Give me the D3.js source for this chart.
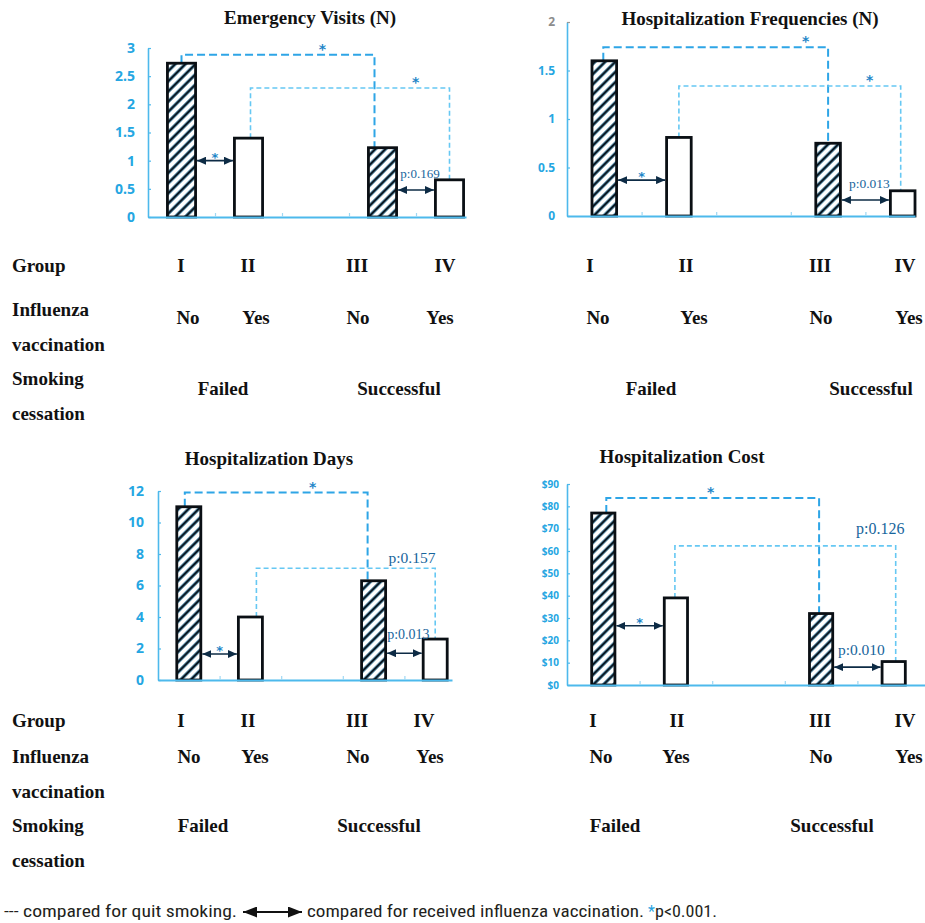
<!DOCTYPE html>
<html>
<head>
<meta charset="utf-8">
<script src="https://cdn.jsdelivr.net/npm/d3@7"></script>
<style>
    body { margin: 0; background: #ffffff; }
    svg { display: block; }
</style>
</head>
<body>
<svg id="chart" width="925" height="923"></svg>
<script>
/* Four bar panels: visits, hospitalizations, days, cost by smoking / vaccination group */

// Categories (the empty slot separates failed / successful quitters)
const categories = ['I', 'II', 'gap', 'III', 'IV'];
const barGroups = ['I', 'II', 'III', 'IV'];
const hatchedBars = [true, false, true, false];

// Bar values per panel
const emergencyVisits = [2.73, 1.40, 1.23, 0.66];
const hospFrequencies = [1.60, 0.81, 0.75, 0.26];
const hospDays = [11.0, 4.0, 6.3, 2.6];
const hospCost = [77, 39, 32, 10.5];

// Y tick values
const evTicks = [0, 0.5, 1, 1.5, 2, 2.5, 3];
const hfTicks = [0, 0.5, 1, 1.5, 2];
const hdTicks = [0, 2, 4, 6, 8, 10, 12];
const hcTicks = [0, 10, 20, 30, 40, 50, 60, 70, 80, 90];

// Comparisons: quit smoking (dashed brackets), vaccination (double arrows)
const quitPairs = [['I', 'III'], ['II', 'IV']];
const vaccPairs = [['I', 'II'], ['III', 'IV']];

const evQuitLevels = [2.88, 2.29];
const evQuitLabels = ['*', '*'];
const evVaccLevels = [1.0, 0.48];
const evVaccLabels = ['*', 'p:0.169'];

const hfQuitLevels = [1.74, 1.34];
const hfQuitLabels = ['*', '*'];
const hfVaccLevels = [0.37, 0.165];
const hfVaccLabels = ['*', 'p:0.013'];

const hdQuitLevels = [11.9, 7.1];
const hdQuitLabels = ['*', 'p:0.157'];
const hdVaccLevels = [1.65, 1.7];
const hdVaccLabels = ['*', 'p:0.013'];

const hcQuitLevels = [83.7, 62.3];
const hcQuitLabels = ['*', 'p:0.126'];
const hcVaccLevels = [26.5, 8];
const hcVaccLabels = ['*', 'p:0.010'];

// Table rows under each panel
const rowHeaders = [['Group'], ['Influenza', 'vaccination'], ['Smoking', 'cessation']];
const groupLabels = ['I', 'II', 'III', 'IV'];
const vaccLabels = ['No', 'Yes', 'No', 'Yes'];
const smokeLabels = ['Failed', 'Successful'];

(function() {
    'use strict';

    const BLUE_AXIS = '#4db9ec';
    const BLUE_TEXT = '#25a6e2';
    const BLUE_DARK = '#1e86c8';
    const BLUE_P = '#17659c';
    const ARROW = '#0d2b45';

    const svg = d3.select('#chart');
    const defs = svg.append('defs');

    // Hatch pattern for bars without vaccination
    const hs = 7.2;
    const hatch = defs.append('pattern')
        .attr('id', 'hatch')
        .attr('patternUnits', 'userSpaceOnUse')
        .attr('width', hs)
        .attr('height', hs)
        .attr('patternTransform', 'rotate(45)');
    hatch.append('rect').attr('width', hs).attr('height', hs).attr('fill', '#ffffff');
    hatch.append('line').attr('x1', hs / 2).attr('x2', hs / 2).attr('y1', 0).attr('y2', hs)
        .attr('stroke', '#7cc9ee').attr('stroke-width', 3.4);
    hatch.append('line').attr('x1', hs / 2).attr('x2', hs / 2).attr('y1', 0).attr('y2', hs)
        .attr('stroke', '#0a1722').attr('stroke-width', 2.4);

    // Arrow heads
    function addMarker(id, w, h, color) {
        defs.append('marker')
            .attr('id', id)
            .attr('viewBox', `0 0 ${w} ${h}`)
            .attr('refX', w)
            .attr('refY', h / 2)
            .attr('markerUnits', 'userSpaceOnUse')
            .attr('markerWidth', w)
            .attr('markerHeight', h)
            .attr('orient', 'auto-start-reverse')
            .append('path')
            .attr('d', `M0,0 L${w},${h / 2} L0,${h} Z`)
            .attr('fill', color);
    }
    addMarker('arrow', 9, 8, ARROW);
    addMarker('arrowBig', 14, 11, '#111111');

    const panels = [
        {
            title: 'Emergency Visits (N)', titleX: 310, titleY: 24,
            values: emergencyVisits, ticks: evTicks, yMax: 3, fmt: d => d,
            x0: 148, x1: 483, axisEnd: 466, yTop: 48, yBottom: 217, barFrac: 0.42,
            tickFont: 14, tickGap: 13,
            quitLevels: evQuitLevels, quitLabels: evQuitLabels,
            quitDx: [[0, -8], [2, 0]], quitLabelPos: [0.73, 0.83], quitLabelDy: [-1, -1], quitFont: [14, 14],
            vaccLevels: evVaccLevels, vaccLabels: evVaccLabels, vaccLabelDy: [1, -12], vaccFont: [13, 13],
            rows: { header: [272, 316, 351, 385, 420], group: [181, 248, 357, 445], gy: 272,
                    vacc: [188, 256, 358, 440], vy: 324, smoke: [223, 399], sy: 395 }
        },
        {
            title: 'Hospitalization Frequencies  (N)', titleX: 750, titleY: 25,
            values: hospFrequencies, ticks: hfTicks, yMax: 2, fmt: d => d,
            x0: 567, x1: 940, axisEnd: 915, yTop: 22, yBottom: 216, barFrac: 0.33,
            tickFont: 12, tickGap: 12, grayTop: true,
            quitLevels: hfQuitLevels, quitLabels: hfQuitLabels,
            quitDx: [[-1, 0], [0, -2]], quitLabelPos: [0.9, 0.86], quitLabelDy: [-1, -1], quitFont: [14, 14],
            vaccLevels: hfVaccLevels, vaccLabels: hfVaccLabels, vaccLabelDy: [1, -12], vaccFont: [13, 13.5],
            rows: { header: null, group: [590, 686, 820, 905], gy: 272,
                    vacc: [598, 694, 821, 909], vy: 324, smoke: [651, 871], sy: 395 }
        },
        {
            title: 'Hospitalization Days', titleX: 269, titleY: 465,
            values: hospDays, ticks: hdTicks, yMax: 12, fmt: d => d,
            x0: 158, x1: 466, axisEnd: 452, yTop: 491, yBottom: 680, barFrac: 0.39,
            tickFont: 14, tickGap: 14,
            quitLevels: hdQuitLevels, quitLabels: hdQuitLabels,
            quitDx: [[-4, -6], [6, 0]], quitLabelPos: [0.7, 0.87], quitLabelDy: [-1, -5], quitFont: [14, 15.5],
            vaccLevels: hdVaccLevels, vaccLabels: hdVaccLabels, vaccLabelDy: [1, -14], vaccFont: [13, 14],
            rows: { header: [727, 763, 798, 832, 867], group: [181, 248, 357, 424], gy: 727,
                    vacc: [189, 255, 358, 430], vy: 763, smoke: [203, 379], sy: 832 }
        },
        {
            title: 'Hospitalization Cost', titleX: 682, titleY: 463,
            values: hospCost, ticks: hcTicks, yMax: 90, fmt: d => '$' + d,
            x0: 567, x1: 930, axisEnd: 925, yTop: 484, yBottom: 685, barFrac: 0.32,
            tickFont: 10, tickGap: 8,
            quitLevels: hcQuitLevels, quitLabels: hcQuitLabels,
            quitDx: [[3, -2], [-1, 2]], quitLabelPos: [0.49, 0.93], quitLabelDy: [-1, -12], quitFont: [14, 16],
            vaccLevels: hcVaccLevels, vaccLabels: hcVaccLabels, vaccLabelDy: [1, -12], vaccFont: [13, 15.5],
            rows: { header: null, group: [593, 677, 820, 905], gy: 727,
                    vacc: [601, 676, 821, 909], vy: 763, smoke: [615, 832], sy: 832 }
        }
    ];

    panels.forEach(drawPanel);
    drawFooter();

    /**
     * Draw one bar panel with its comparison marks and table rows
     */
    function drawPanel(p) {
        const g = svg.append('g');

        const x = d3.scaleBand().domain(categories).range([p.x0, p.x1]);
        const y = d3.scaleLinear().domain([0, p.yMax]).range([p.yBottom, p.yTop]);
        const cx = c => x(c) + x.bandwidth() / 2;
        const bw = x.bandwidth() * p.barFrac;
        const valueOf = c => p.values[barGroups.indexOf(c)];

        // Title
        g.append('text')
            .attr('x', p.titleX)
            .attr('y', p.titleY)
            .attr('text-anchor', 'middle')
            .style('font-family', '"Liberation Serif", "Times New Roman", serif')
            .style('font-weight', 'bold')
            .style('font-size', '19px')
            .style('fill', '#111111')
            .text(p.title);

        // Quit smoking brackets (dashed)
        quitPairs.forEach((pair, i) => {
            const xa = cx(pair[0]) + p.quitDx[i][0];
            const xb = cx(pair[1]) + p.quitDx[i][1];
            const ly = y(p.quitLevels[i]);
            g.append('path')
                .attr('d', `M${xa},${y(valueOf(pair[0]))} V${ly} H${xb} V${y(valueOf(pair[1]))}`)
                .attr('fill', 'none')
                .attr('stroke', i === 0 ? '#2ea5e6' : '#66c8f3')
                .attr('stroke-width', i === 0 ? 2 : 1.6)
                .attr('stroke-dasharray', i === 0 ? '8,4' : '5,3');

            const lbl = p.quitLabels[i];
            g.append('text')
                .attr('x', xa + (xb - xa) * p.quitLabelPos[i])
                .attr('y', ly + p.quitLabelDy[i])
                .attr('text-anchor', 'middle')
                .style('font-family', lbl === '*' ? '"DejaVu Sans", sans-serif' : '"Liberation Serif", serif')
                .style('font-weight', lbl === '*' ? 'bold' : 'normal')
                .style('font-size', p.quitFont[i] + 'px')
                .style('fill', lbl === '*' ? BLUE_DARK : BLUE_P)
                .text(lbl);
        });

        // Bars
        barGroups.forEach((c, i) => {
            const v = p.values[i];
            g.append('rect')
                .attr('x', cx(c) - bw / 2)
                .attr('y', y(v))
                .attr('width', bw)
                .attr('height', y(0) - y(v))
                .attr('fill', hatchedBars[i] ? 'url(#hatch)' : '#ffffff')
                .attr('stroke', '#0a0f14')
                .attr('stroke-width', 2.8);
        });

        // Vaccination arrows
        vaccPairs.forEach((pair, i) => {
            const xa = cx(pair[0]) + bw / 2 + 1.5;
            const xb = cx(pair[1]) - bw / 2 - 1.5;
            const ay = y(p.vaccLevels[i]);
            g.append('line')
                .attr('x1', xa).attr('x2', xb)
                .attr('y1', ay).attr('y2', ay)
                .attr('stroke', ARROW)
                .attr('stroke-width', 1.6)
                .attr('marker-start', 'url(#arrow)')
                .attr('marker-end', 'url(#arrow)');

            const lbl = p.vaccLabels[i];
            g.append('text')
                .attr('x', (xa + xb) / 2 + (lbl === '*' ? 0 : 4))
                .attr('y', ay + p.vaccLabelDy[i])
                .attr('text-anchor', 'middle')
                .style('font-family', lbl === '*' ? '"DejaVu Sans", sans-serif' : '"Liberation Serif", serif')
                .style('font-weight', lbl === '*' ? 'bold' : 'normal')
                .style('font-size', p.vaccFont[i] + 'px')
                .style('fill', lbl === '*' ? BLUE_DARK : BLUE_P)
                .text(lbl);
        });

        // Y axis (ticks inside)
        const yAxis = g.append('g')
            .attr('transform', `translate(${p.x0}, 0)`)
            .call(d3.axisLeft(y)
                .tickValues(p.ticks)
                .tickFormat(p.fmt)
                .tickSizeInner(-3)
                .tickSizeOuter(0)
                .tickPadding(p.tickGap));
        yAxis.select('.domain').attr('stroke', BLUE_AXIS).attr('stroke-width', 1.6);
        yAxis.selectAll('.tick line').attr('stroke', BLUE_AXIS).attr('stroke-width', 1.2);
        yAxis.selectAll('.tick text')
            .style('font-family', '"Noto Sans", "Liberation Sans", sans-serif')
            .style('font-weight', 'bold')
            .style('font-size', p.tickFont + 'px')
            .style('fill', BLUE_TEXT);
        if (p.grayTop) {
            yAxis.selectAll('.tick').filter(d => d === p.yMax)
                .call(t => t.select('text').style('fill', '#8c8c8c'))
                .call(t => t.select('line').attr('stroke', '#9a9a9a'));
        }

        // X axis: line with small ticks at band boundaries
        const step = x.step();
        const xb = d3.scaleLinear()
            .domain([0, (p.axisEnd - p.x0) / step])
            .range([p.x0, p.axisEnd]);
        const xAxis = g.append('g')
            .attr('transform', `translate(0, ${y(0)})`)
            .call(d3.axisBottom(xb)
                .tickValues([1, 2, 3, 4])
                .tickFormat('')
                .tickSizeInner(-4)
                .tickSizeOuter(0));
        xAxis.select('.domain').attr('stroke', BLUE_AXIS).attr('stroke-width', 2.2);
        xAxis.selectAll('.tick line').attr('stroke', '#9fd8f3').attr('stroke-width', 1.2);

        drawRows(g, p.rows);
    }

    /**
     * Group / vaccination / smoking rows under a panel
     */
    function drawRows(g, r) {
        const font = sel => sel
            .style('font-family', '"Liberation Serif", "Times New Roman", serif')
            .style('font-weight', 'bold')
            .style('font-size', '19px')
            .style('fill', '#111111');

        if (r.header) {
            rowHeaders.flat().forEach((h, i) => {
                g.append('text').attr('x', 12).attr('y', r.header[i]).call(font).text(h);
            });
        }
        groupLabels.forEach((t, i) => {
            g.append('text').attr('x', r.group[i]).attr('y', r.gy)
                .attr('text-anchor', 'middle').call(font).text(t);
        });
        vaccLabels.forEach((t, i) => {
            g.append('text').attr('x', r.vacc[i]).attr('y', r.vy)
                .attr('text-anchor', 'middle').call(font).text(t);
        });
        smokeLabels.forEach((t, i) => {
            g.append('text').attr('x', r.smoke[i]).attr('y', r.sy)
                .attr('text-anchor', 'middle').call(font).text(t);
        });
    }

    /**
     * Footnote line
     */
    function drawFooter() {
        const f = svg.append('g');
        const base = 917;
        const style = sel => sel
            .style('font-family', '"Liberation Sans Narrow", "Roboto Condensed", "Liberation Sans", sans-serif')
            .style('font-size', '16px')
            .style('fill', '#231f20');

        f.append('text').attr('x', 4).attr('y', base)
            .attr('textLength', 233).attr('lengthAdjust', 'spacingAndGlyphs')
            .call(style).text('--- compared for quit smoking.');

        f.append('line')
            .attr('x1', 243).attr('x2', 302)
            .attr('y1', base - 5).attr('y2', base - 5)
            .attr('stroke', '#111111').attr('stroke-width', 2)
            .attr('marker-start', 'url(#arrowBig)')
            .attr('marker-end', 'url(#arrowBig)');

        f.append('text').attr('x', 307).attr('y', base)
            .attr('textLength', 337).attr('lengthAdjust', 'spacingAndGlyphs')
            .call(style).text('compared for received influenza vaccination.');

        f.append('text').attr('x', 648).attr('y', base)
            .call(style).style('fill', '#29a3df').text('*');

        f.append('text').attr('x', 655).attr('y', base)
            .attr('textLength', 62).attr('lengthAdjust', 'spacingAndGlyphs')
            .call(style).text('p<0.001.');
    }
})();
</script>
</body>
</html>
